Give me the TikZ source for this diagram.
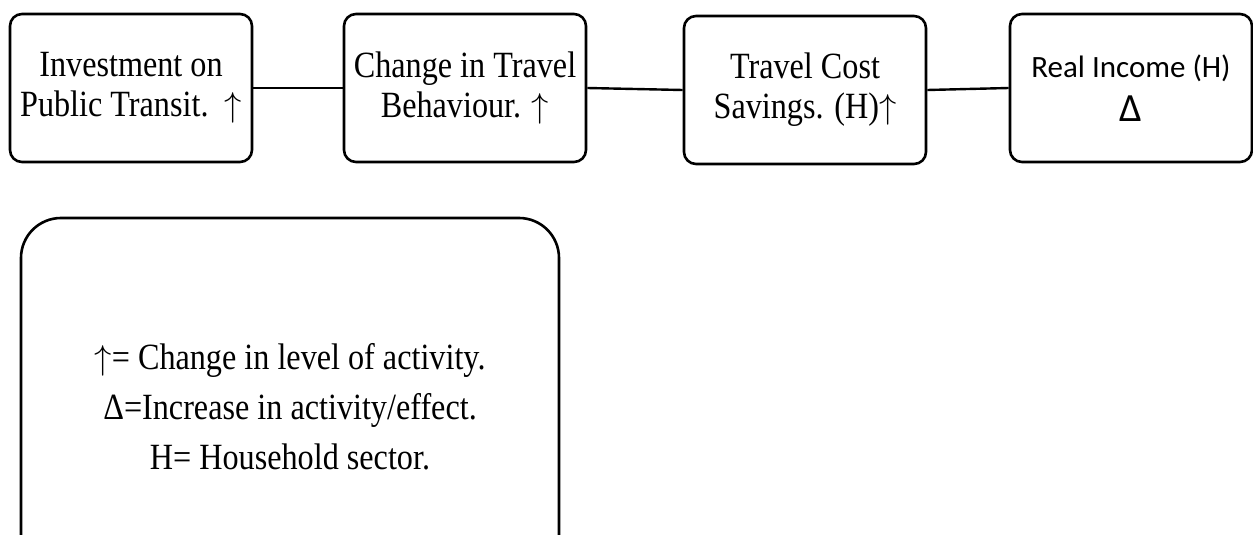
\documentclass[tikz,border=0pt]{standalone}
\usepackage{fontspec}
\setmainfont{Liberation Serif}[FakeStretch=0.87]
\newfontfamily\calibrifont{Carlito}

\begin{document}
\begin{tikzpicture}[x=0.5pt,y=-0.5pt,
    box/.style={draw,line width=1.3pt,rounded corners=6pt,align=center,
      minimum width=121pt,minimum height=74pt,inner sep=0pt,
      font=\fontsize{18.5}{20}\selectfont},
    link/.style={line width=1.2pt}]
    \useasboundingbox (0,0) rectangle (1253,535);
    % chain of effects
    \node[box] (invest) at (131,88) {Investment on\\Public Transit.\ \ $\uparrow$};
    \node[box] (behav) at (465,88) {Change in Travel\\Behaviour. $\uparrow$};
    \node[box] (saving) at (805,90) {Travel Cost\\Savings. (H)$\uparrow$};
    \node[box,font=\calibrifont\fontsize{15.5}{22}\selectfont] (income) at (1131,88)
      {Real Income (H)\\{\fontsize{20}{22}\selectfont Δ}};
    \draw[link] (invest.east) -- (behav.west);
    \draw[link] (behav.east) -- (saving.west);
    \draw[link] (saving.east) -- (income.west);
    % key to the symbols
    \node[draw,line width=1.3pt,rounded corners=20pt,align=center,
      minimum width=269pt,minimum height=189pt,
      font=\fontsize{18.5}{25}\selectfont] (legend) at (290,407)
      {$\uparrow$= Change in level of activity.\\Δ=Increase in activity/effect.\\H= Household sector.};
  \end{tikzpicture}
\end{document}
